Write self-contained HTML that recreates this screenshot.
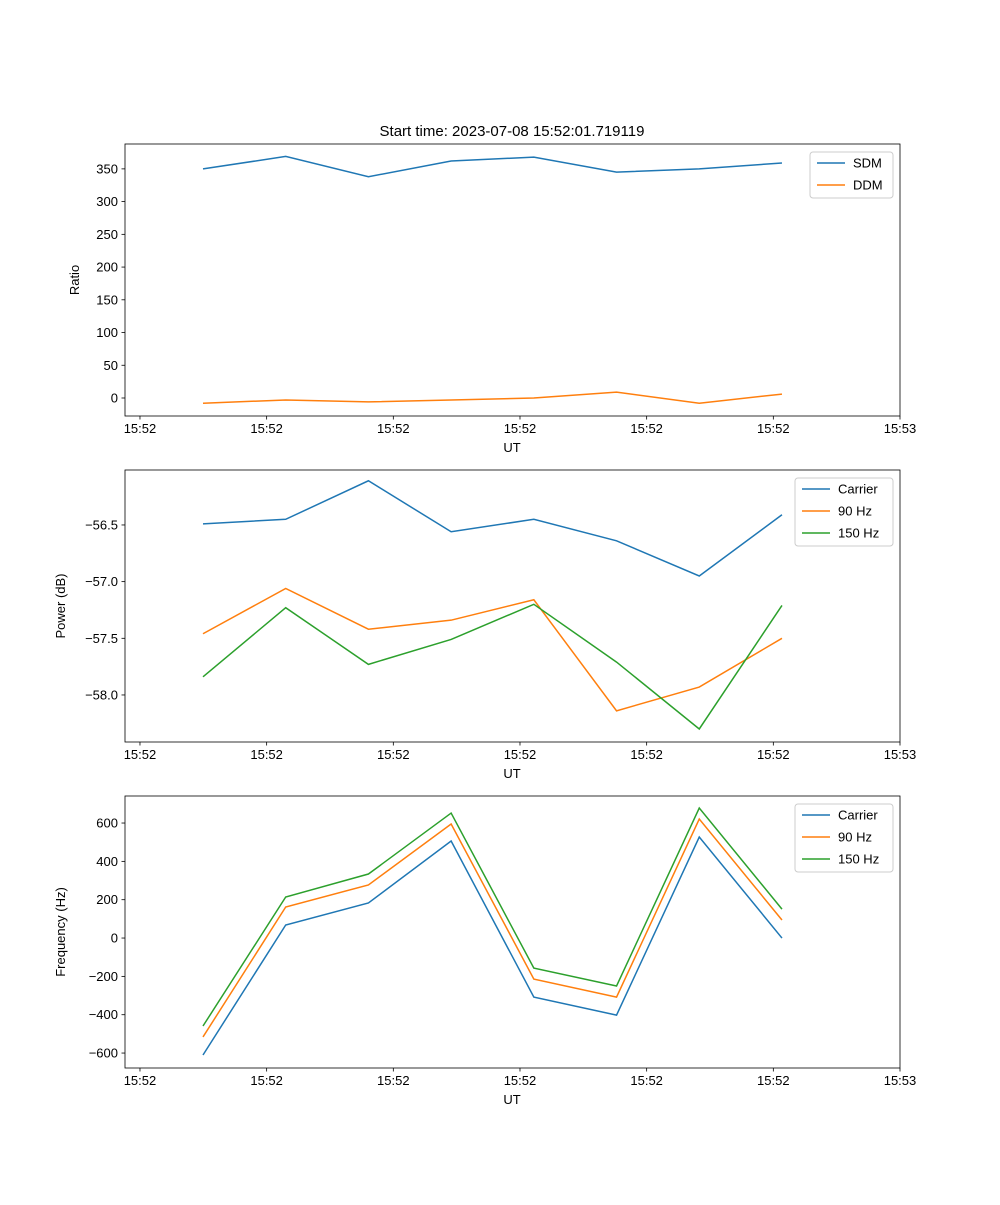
<!DOCTYPE html>
<html><head><meta charset="utf-8"><style>
body{margin:0;background:#fff}
svg text{font-family:"Liberation Sans","DejaVu Sans",sans-serif;font-size:13px;fill:#000}
</style></head><body>
<svg id="fig" width="1000" height="1200"></svg>
<script>
const xTickLabels=["15:52","15:52","15:52","15:52","15:52","15:52","15:53"];
const sdm=[350,369,338,362,368,345,350,359];
const ddm=[-8,-3,-6,-3,0,9,-8,6];
const carrierPow=[-56.49,-56.45,-56.11,-56.56,-56.45,-56.64,-56.95,-56.41];
const hz90Pow=[-57.46,-57.06,-57.42,-57.34,-57.16,-58.14,-57.93,-57.50];
const hz150Pow=[-57.84,-57.23,-57.73,-57.51,-57.20,-57.71,-58.30,-57.21];
const carrierFreq=[-610,68,183,506,-308,-402,527,0];
const hz90Freq=[-516,162,277,595,-214,-308,621,94];
const hz150Freq=[-459,214,334,652,-157,-250,678,151];
const ticks1=[0,50,100,150,200,250,300,350];
const ticks2=[-58.0,-57.5,-57.0,-56.5];
const ticks3=[-600,-400,-200,0,200,400,600];
const NS="http://www.w3.org/2000/svg";
const svg=document.getElementById('fig');
function el(t,a,p){const e=document.createElementNS(NS,t);for(const k in a)e.setAttribute(k,a[k]);(p||svg).appendChild(e);return e;}
const L=125,R=900;
function xs(i){return 203+i*82.71;}
const xTickIdx=[0,1,2,3,4,5,6].map(k=>-0.762+k*1.5315);
const C=["#1f77b4","#ff7f0e","#2ca02c"];
function panel(name,top,ymin,ymax,yt,fmt,ylabel,series,labels,legW){
  const bot=top+272;
  const g=el('g',{});
  const ys=v=>bot-(v-ymin)/(ymax-ymin)*272;
  series.forEach((s,k)=>{
    const p=el('polyline',{points:s.map((v,i)=>xs(i)+','+ys(v)).join(' '),fill:'none',stroke:C[k],'stroke-width':1.5},g);
    
    
  });
  el('rect',{x:L,y:top,width:R-L,height:272,fill:'none',stroke:'#000','stroke-width':0.8},g);
  xTickIdx.forEach((t,k)=>{const x=xs(t);el('line',{x1:x,x2:x,y1:bot,y2:bot+3.5,stroke:'#000','stroke-width':0.8},g);
    const tx=el('text',{x:x,y:bot+17,'text-anchor':'middle'},g);tx.textContent=xTickLabels[k];});
  yt.forEach(v=>{const y=ys(v);el('line',{x1:L-3.5,x2:L,y1:y,y2:y,stroke:'#000','stroke-width':0.8},g);
    const tx=el('text',{x:L-7,y:y+4.5,'text-anchor':'end'},g);tx.textContent=fmt(v);});
  const xl=el('text',{x:512,y:bot+36,'text-anchor':'middle'},g);xl.textContent='UT';
  
  const yl=el('text',{x:0,y:0,'text-anchor':'middle',transform:`translate(${L-(ylabel==='Ratio'?46:60)},${top+136}) rotate(-90)`},g);yl.textContent=ylabel;
  
  const lg=el('g',{},g);
  const lx=R-7-legW,ly=top+8;
  el('rect',{x:lx,y:ly,width:legW,height:labels.length*22+2,fill:'#fff',stroke:'#ccc',rx:3},lg);
  labels.forEach((lab,k)=>{const y=ly+11+k*22;
    el('line',{x1:lx+7,x2:lx+35,y1:y,y2:y,stroke:C[k],'stroke-width':1.5},lg);
    const t=el('text',{x:lx+43,y:y+4.5},lg);t.textContent=lab;});
}
const t=el('text',{x:512,y:136,'text-anchor':'middle',style:'font-size:15px'});t.textContent='Start time: 2023-07-08 15:52:01.719119';

panel('ratio-panel',144,-27.5,388,ticks1,v=>String(v),'Ratio',[sdm,ddm],['SDM','DDM'],83);
panel('power-panel',470,-58.415,-56.015,ticks2,v=>'\u2212'+Math.abs(v).toFixed(1),'Power (dB)',[carrierPow,hz90Pow,hz150Pow],['Carrier','90 Hz','150 Hz'],98);
panel('frequency-panel',796,-678,741,ticks3,v=>v<0?'\u2212'+Math.abs(v):String(v),'Frequency (Hz)',[carrierFreq,hz90Freq,hz150Freq],['Carrier','90 Hz','150 Hz'],98);
</script>
</body></html>
